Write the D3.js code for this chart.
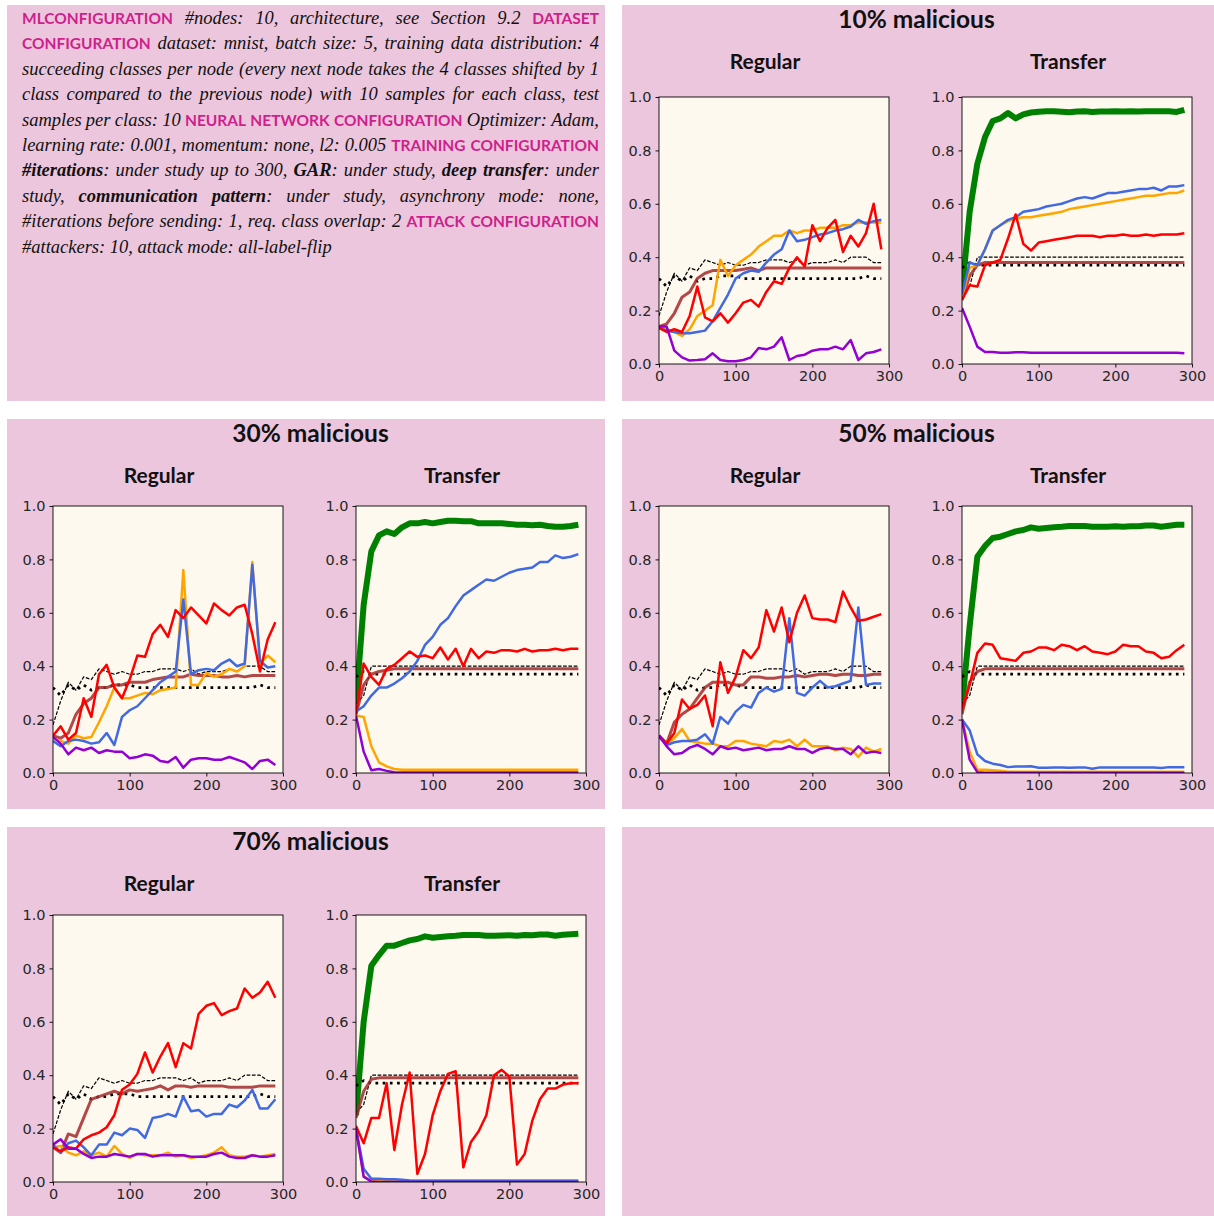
<!DOCTYPE html>
<html>
<head>
<meta charset="utf-8">
<script src="https://cdn.jsdelivr.net/npm/d3@7"></script>
<style>
  body { margin: 0; background: #fff; }
  svg { display: block; }
</style>
</head>
<body>
<script>
// iterations on the x axis
const iterations = [0,10,20,30,40,50,60,70,80,90,100,110,120,130,140,150,160,170,180,190,200,210,220,230,240,250,260,270,280,290];
const yTicks = [0, 0.2, 0.4, 0.6, 0.8, 1.0];
const xTicks = [0, 100, 200, 300];
const maliciousTitles = ['10% malicious', '30% malicious', '50% malicious', '70% malicious'];
const subTitles = ['Regular', 'Transfer'];

// reference curves (black dashed / dotted)
const regDashed = [0.18,0.27,0.34,0.31,0.36,0.35,0.39,0.38,0.37,0.38,0.37,0.37,0.38,0.38,0.39,0.39,0.39,0.38,0.39,0.37,0.38,0.38,0.38,0.39,0.38,0.40,0.40,0.40,0.38,0.38];
const regDotted = [0.32,0.29,0.33,0.31,0.33,0.31,0.32,0.32,0.33,0.33,0.33,0.32,0.32,0.32,0.32,0.32,0.32,0.32,0.32,0.32,0.32,0.32,0.32,0.32,0.32,0.32,0.32,0.33,0.32,0.32];
const trDashed = [0.26,0.29,0.40,0.40,0.40,0.40,0.40,0.40,0.40,0.40,0.40,0.40,0.40,0.40,0.40,0.40,0.40,0.40,0.40,0.40,0.40,0.40,0.40,0.40,0.40,0.40,0.40,0.40,0.40,0.40];
const trDotted = [0.36,0.38,0.37,0.37,0.37,0.37,0.37,0.37,0.37,0.37,0.37,0.37,0.37,0.37,0.37,0.37,0.37,0.37,0.37,0.37,0.37,0.37,0.37,0.37,0.37,0.37,0.37,0.37,0.37,0.37];

// 10% malicious
const reg10Orange = [0.14,0.13,0.12,0.105,0.13,0.18,0.20,0.22,0.39,0.33,0.37,0.39,0.41,0.44,0.46,0.48,0.48,0.50,0.49,0.50,0.50,0.51,0.51,0.51,0.52,0.52,0.53,0.53,0.53,0.53];
const reg10Blue = [0.135,0.125,0.12,0.115,0.115,0.12,0.125,0.16,0.21,0.26,0.32,0.34,0.35,0.345,0.38,0.41,0.43,0.50,0.46,0.465,0.475,0.485,0.49,0.50,0.505,0.515,0.54,0.525,0.535,0.54];
const reg10Red = [0.135,0.12,0.13,0.12,0.18,0.29,0.175,0.16,0.19,0.155,0.19,0.23,0.24,0.215,0.27,0.31,0.30,0.36,0.40,0.365,0.52,0.46,0.51,0.54,0.42,0.48,0.44,0.49,0.60,0.43];
const reg10Purple = [0.14,0.14,0.05,0.025,0.013,0.015,0.018,0.04,0.015,0.01,0.01,0.015,0.025,0.06,0.055,0.065,0.10,0.015,0.03,0.035,0.05,0.055,0.055,0.065,0.055,0.09,0.015,0.04,0.045,0.055];
const reg10Brown = [0.14,0.15,0.19,0.25,0.27,0.32,0.34,0.35,0.35,0.35,0.35,0.355,0.36,0.35,0.36,0.36,0.36,0.36,0.36,0.36,0.36,0.36,0.36,0.36,0.36,0.36,0.36,0.36,0.36,0.36];
const tr10Green = [0.27,0.57,0.75,0.85,0.91,0.92,0.94,0.92,0.935,0.942,0.945,0.947,0.947,0.945,0.943,0.946,0.947,0.944,0.946,0.946,0.947,0.946,0.947,0.946,0.947,0.947,0.947,0.947,0.944,0.952];
const tr10Blue = [0.26,0.38,0.37,0.43,0.50,0.52,0.54,0.55,0.57,0.575,0.58,0.59,0.595,0.60,0.61,0.62,0.625,0.62,0.63,0.64,0.64,0.645,0.65,0.655,0.655,0.66,0.65,0.665,0.665,0.67];
const tr10Orange = [0.25,0.36,0.37,0.43,0.50,0.52,0.535,0.545,0.55,0.55,0.555,0.56,0.565,0.57,0.58,0.585,0.59,0.595,0.60,0.605,0.61,0.615,0.62,0.625,0.63,0.63,0.635,0.64,0.64,0.65];
const tr10Red = [0.24,0.295,0.29,0.37,0.38,0.39,0.47,0.56,0.45,0.425,0.455,0.46,0.465,0.47,0.475,0.48,0.48,0.48,0.475,0.48,0.48,0.485,0.48,0.48,0.485,0.48,0.485,0.485,0.485,0.49];
const tr10Purple = [0.21,0.14,0.065,0.045,0.045,0.042,0.042,0.044,0.044,0.042,0.042,0.042,0.042,0.042,0.042,0.042,0.042,0.042,0.042,0.042,0.042,0.042,0.042,0.042,0.042,0.042,0.042,0.042,0.042,0.04];
const tr10Brown = [0.24,0.33,0.37,0.38,0.38,0.38,0.38,0.38,0.38,0.38,0.38,0.38,0.38,0.38,0.38,0.38,0.38,0.38,0.38,0.38,0.38,0.38,0.38,0.38,0.38,0.38,0.38,0.38,0.38,0.38];

// 30% malicious
const reg30Orange = [0.13,0.12,0.11,0.14,0.13,0.135,0.19,0.25,0.32,0.28,0.28,0.29,0.30,0.295,0.31,0.315,0.32,0.76,0.33,0.33,0.375,0.36,0.37,0.39,0.38,0.40,0.79,0.41,0.44,0.415];
const reg30Blue = [0.12,0.10,0.12,0.125,0.12,0.11,0.115,0.15,0.105,0.21,0.235,0.25,0.28,0.31,0.34,0.36,0.38,0.65,0.37,0.385,0.39,0.385,0.41,0.425,0.40,0.41,0.78,0.42,0.395,0.40];
const reg30Red = [0.14,0.175,0.125,0.15,0.28,0.21,0.37,0.405,0.32,0.28,0.35,0.44,0.435,0.52,0.555,0.51,0.61,0.58,0.62,0.59,0.56,0.635,0.61,0.59,0.62,0.63,0.52,0.38,0.50,0.565];
const reg30Purple = [0.135,0.11,0.07,0.095,0.085,0.095,0.075,0.085,0.08,0.08,0.055,0.06,0.07,0.065,0.045,0.04,0.06,0.02,0.05,0.055,0.055,0.05,0.05,0.06,0.05,0.04,0.015,0.045,0.05,0.03];
const reg30Brown = [0.14,0.13,0.15,0.22,0.26,0.28,0.32,0.32,0.33,0.33,0.34,0.34,0.34,0.35,0.355,0.36,0.36,0.36,0.37,0.365,0.365,0.365,0.36,0.36,0.365,0.36,0.365,0.365,0.365,0.365];
const tr30Green = [0.26,0.63,0.83,0.89,0.905,0.895,0.92,0.935,0.935,0.94,0.935,0.94,0.945,0.945,0.943,0.943,0.935,0.935,0.935,0.935,0.933,0.93,0.93,0.928,0.93,0.925,0.922,0.922,0.925,0.93];
const tr30Blue = [0.23,0.25,0.29,0.32,0.32,0.335,0.355,0.38,0.42,0.48,0.51,0.555,0.58,0.625,0.665,0.685,0.705,0.725,0.72,0.735,0.75,0.76,0.765,0.77,0.79,0.79,0.815,0.805,0.81,0.82];
const tr30Orange = [0.215,0.21,0.10,0.04,0.025,0.015,0.012,0.012,0.012,0.012,0.012,0.012,0.012,0.012,0.012,0.012,0.012,0.012,0.012,0.012,0.012,0.012,0.012,0.012,0.012,0.012,0.012,0.012,0.012,0.012];
const tr30Red = [0.22,0.41,0.36,0.33,0.39,0.405,0.43,0.455,0.435,0.44,0.43,0.47,0.425,0.465,0.40,0.465,0.43,0.455,0.45,0.46,0.46,0.455,0.465,0.455,0.46,0.46,0.465,0.46,0.465,0.465];
const tr30Purple = [0.215,0.08,0.01,0.015,0.008,0.003,0.002,0.002,0.002,0.002,0.002,0.002,0.002,0.002,0.002,0.002,0.002,0.002,0.002,0.002,0.002,0.002,0.002,0.002,0.002,0.002,0.002,0.002,0.002,0.002];
const tr30Brown = [0.22,0.33,0.37,0.38,0.385,0.39,0.39,0.39,0.39,0.39,0.39,0.39,0.39,0.39,0.39,0.39,0.39,0.39,0.39,0.39,0.39,0.39,0.39,0.39,0.39,0.39,0.39,0.39,0.39,0.39];

// 50% malicious
const reg50Orange = [0.135,0.11,0.13,0.165,0.12,0.115,0.11,0.11,0.10,0.10,0.12,0.12,0.11,0.105,0.10,0.12,0.115,0.125,0.10,0.125,0.10,0.10,0.10,0.085,0.095,0.09,0.06,0.095,0.08,0.09];
const reg50Blue = [0.135,0.105,0.115,0.12,0.12,0.125,0.145,0.11,0.21,0.185,0.23,0.255,0.245,0.30,0.32,0.305,0.315,0.58,0.30,0.29,0.32,0.345,0.32,0.325,0.335,0.345,0.62,0.33,0.335,0.335];
const reg50Red = [0.14,0.11,0.15,0.275,0.24,0.255,0.29,0.175,0.415,0.30,0.36,0.46,0.43,0.47,0.61,0.53,0.62,0.49,0.60,0.665,0.58,0.575,0.575,0.565,0.68,0.62,0.57,0.575,0.585,0.595];
const reg50Purple = [0.14,0.10,0.07,0.075,0.095,0.105,0.09,0.07,0.10,0.09,0.095,0.085,0.09,0.095,0.085,0.09,0.09,0.10,0.09,0.09,0.075,0.09,0.095,0.09,0.09,0.07,0.10,0.075,0.08,0.075];
const reg50Brown = [0.14,0.11,0.19,0.22,0.24,0.28,0.32,0.34,0.34,0.34,0.33,0.33,0.36,0.36,0.355,0.355,0.36,0.36,0.365,0.36,0.365,0.37,0.37,0.365,0.37,0.37,0.365,0.365,0.37,0.37];
const tr50Green = [0.25,0.55,0.81,0.85,0.88,0.885,0.895,0.905,0.91,0.92,0.915,0.918,0.92,0.922,0.925,0.925,0.925,0.922,0.922,0.922,0.924,0.922,0.924,0.924,0.927,0.927,0.922,0.926,0.93,0.93];
const tr50Blue = [0.20,0.16,0.07,0.045,0.035,0.03,0.022,0.024,0.024,0.025,0.02,0.02,0.021,0.021,0.02,0.021,0.021,0.016,0.021,0.021,0.021,0.021,0.021,0.021,0.021,0.021,0.019,0.022,0.022,0.022];
const tr50Orange = [0.20,0.08,0.012,0.012,0.01,0.008,0.005,0.005,0.005,0.005,0.005,0.005,0.005,0.005,0.005,0.005,0.005,0.005,0.005,0.005,0.005,0.005,0.005,0.005,0.005,0.005,0.005,0.005,0.005,0.005];
const tr50Red = [0.24,0.33,0.45,0.485,0.48,0.43,0.425,0.42,0.45,0.455,0.47,0.47,0.46,0.48,0.475,0.46,0.475,0.455,0.45,0.445,0.455,0.48,0.475,0.475,0.455,0.45,0.43,0.435,0.46,0.48];
const tr50Purple = [0.20,0.05,0.003,0.001,0.001,0.001,0.001,0.001,0.001,0.001,0.001,0.001,0.001,0.001,0.001,0.001,0.001,0.001,0.001,0.001,0.001,0.001,0.001,0.001,0.001,0.001,0.001,0.001,0.001,0.001];
const tr50Brown = [0.22,0.34,0.38,0.39,0.39,0.39,0.39,0.39,0.39,0.39,0.39,0.39,0.39,0.39,0.39,0.39,0.39,0.39,0.39,0.39,0.39,0.39,0.39,0.39,0.39,0.39,0.39,0.39,0.39,0.39];

// 70% malicious
const reg70Orange = [0.13,0.135,0.11,0.10,0.115,0.10,0.11,0.095,0.135,0.105,0.09,0.105,0.10,0.10,0.10,0.11,0.095,0.10,0.09,0.095,0.10,0.11,0.13,0.10,0.095,0.095,0.10,0.095,0.10,0.105];
const reg70Blue = [0.14,0.11,0.145,0.155,0.13,0.10,0.14,0.14,0.185,0.175,0.20,0.195,0.165,0.24,0.245,0.255,0.245,0.32,0.265,0.27,0.245,0.255,0.255,0.29,0.28,0.305,0.345,0.275,0.275,0.31];
const reg70Red = [0.13,0.115,0.13,0.125,0.16,0.175,0.185,0.205,0.25,0.345,0.365,0.405,0.485,0.41,0.47,0.52,0.43,0.52,0.50,0.63,0.66,0.67,0.625,0.64,0.65,0.725,0.69,0.71,0.75,0.69];
const reg70Purple = [0.14,0.16,0.125,0.125,0.105,0.09,0.095,0.095,0.105,0.10,0.095,0.105,0.105,0.095,0.10,0.10,0.10,0.10,0.095,0.095,0.095,0.105,0.11,0.095,0.09,0.09,0.10,0.095,0.095,0.10];
const reg70Brown = [0.13,0.11,0.18,0.17,0.24,0.31,0.32,0.33,0.34,0.33,0.345,0.34,0.345,0.35,0.36,0.345,0.36,0.36,0.355,0.36,0.36,0.36,0.36,0.355,0.355,0.355,0.355,0.36,0.36,0.36];
const tr70Green = [0.25,0.60,0.81,0.85,0.885,0.885,0.895,0.905,0.91,0.92,0.915,0.918,0.92,0.922,0.925,0.925,0.925,0.922,0.922,0.923,0.924,0.922,0.925,0.924,0.927,0.927,0.922,0.926,0.928,0.93];
const tr70Blue = [0.20,0.05,0.012,0.012,0.01,0.01,0.008,0.006,0.005,0.005,0.005,0.005,0.005,0.005,0.005,0.005,0.005,0.005,0.005,0.005,0.005,0.005,0.005,0.005,0.005,0.005,0.005,0.005,0.005,0.005];
const tr70Orange = [0.20,0.02,0.005,0.005,0.005,0.005,0.005,0.005,0.005,0.005,0.005,0.005,0.005,0.005,0.005,0.005,0.005,0.005,0.005,0.005,0.005,0.005,0.005,0.005,0.005,0.005,0.005,0.005,0.005,0.005];
const tr70Red = [0.21,0.145,0.24,0.24,0.37,0.12,0.29,0.41,0.03,0.105,0.25,0.34,0.405,0.415,0.055,0.15,0.19,0.25,0.40,0.42,0.395,0.065,0.105,0.23,0.31,0.35,0.35,0.365,0.37,0.37];
const tr70Purple = [0.20,0.02,0.002,0,0,0,0,0,0,0,0,0,0,0,0,0,0,0,0,0,0,0,0,0,0,0,0,0,0,0];
const tr70Brown = [0.24,0.34,0.385,0.39,0.39,0.39,0.39,0.39,0.39,0.39,0.39,0.39,0.39,0.39,0.39,0.39,0.39,0.39,0.39,0.39,0.39,0.39,0.39,0.39,0.39,0.39,0.39,0.39,0.39,0.39];

// configuration text, one entry per printed line: h = heading, i = italic, b = bold italic
const configLines = [
  [['h', 'MLCONFIGURATION'], ['i', '#nodes: 10, architecture, see Section 9.2'], ['h', 'DATASET']],
  [['h', 'CONFIGURATION'], ['i', 'dataset: mnist, batch size: 5, training data distribution: 4']],
  [['i', 'succeeding classes per node (every next node takes the 4 classes shifted by 1']],
  [['i', 'class compared to the previous node) with 10 samples for each class, test']],
  [['i', 'samples per class: 10'], ['h', 'NEURAL NETWORK CONFIGURATION'], ['i', 'Optimizer: Adam,']],
  [['i', 'learning rate: 0.001, momentum: none, l2: 0.005'], ['h', 'TRAINING CONFIGURATION']],
  [['b', '#iterations'], ['i', ': under study up to 300, ', true], ['b', 'GAR'], ['i', ': under study, ', true], ['b', 'deep transfer'], ['i', ': under', true]],
  [['i', 'study, '], ['b', 'communication pattern'], ['i', ': under study, asynchrony mode: none,', true]],
  [['i', '#iterations before sending: 1, req. class overlap: 2'], ['h', 'ATTACK CONFIGURATION']],
  [['i', '#attackers: 10, attack mode: all-label-flip']]
];

const W = 1214, H = 1216;
const pink = '#ecc6dc';
const plotBg = '#fdf9ef';
const magenta = '#cf1f8d';
const sansTitle = 'Lato, "Open Sans", sans-serif';

const svg = d3.select('body').append('svg')
  .attr('width', W)
  .attr('height', H);

const boxes = [
  {x: 7, y: 5, w: 598, h: 396},
  {x: 622, y: 5, w: 592, h: 396},
  {x: 7, y: 419, w: 598, h: 390},
  {x: 622, y: 419, w: 592, h: 390},
  {x: 7, y: 827, w: 598, h: 389},
  {x: 622, y: 827, w: 592, h: 389}
];
svg.selectAll('rect.panel')
  .data(boxes)
  .enter().append('rect')
  .attr('class', 'panel')
  .attr('x', d => d.x).attr('y', d => d.y)
  .attr('width', d => d.w).attr('height', d => d.h)
  .attr('fill', pink);

// ---- text panel ----
function drawConfigText() {
  const left = 22, right = 599, top = 24, lineH = 25.4;
  const styleOf = {
    h: {family: sansTitle, size: '15.5px', weight: 700, style: 'normal', fill: magenta},
    i: {family: '"Liberation Serif", "Times New Roman", serif', size: '18.5px', weight: 400, style: 'italic', fill: '#111'},
    b: {family: '"Liberation Serif", "Times New Roman", serif', size: '18.5px', weight: 700, style: 'italic', fill: '#111'}
  };
  const g = svg.append('g').attr('class', 'config');

  configLines.forEach((segs, li) => {
    const y = top + li * lineH;
    // split into words; glued segments attach to the previous word
    const words = [];
    segs.forEach(([kind, txt, glued]) => {
      const parts = txt.trim().split(/\s+/);
      const lead = glued && !/^\s/.test(txt);
      parts.forEach((p, pi) => {
        const node = g.append('text')
          .attr('y', y)
          .attr('font-family', styleOf[kind].family)
          .attr('font-size', styleOf[kind].size)
          .attr('font-weight', styleOf[kind].weight)
          .attr('font-style', styleOf[kind].style)
          .attr('fill', styleOf[kind].fill)
          .text(p);
        const w = node.node().getComputedTextLength();
        if (pi === 0 && lead && words.length) {
          words[words.length - 1].push({node, w});
        } else {
          words.push([{node, w}]);
        }
      });
    });
    const widths = words.map(grp => d3.sum(grp, d => d.w));
    const total = d3.sum(widths);
    const last = li === configLines.length - 1;
    const gap = last ? 4.6 : (right - left - total) / (words.length - 1);
    let x = left;
    words.forEach((grp, wi) => {
      let gx = x;
      grp.forEach(d => { d.node.attr('x', gx); gx += d.w; });
      x += widths[wi] + gap;
    });
  });
}
drawConfigText();

// ---- chart panels ----
const charts = [
  {px: 622, py: 5, left: 659, top: 97, reg: [reg10Orange, reg10Blue, reg10Red, reg10Purple, reg10Brown],
    tr: [tr10Green, tr10Orange, tr10Blue, tr10Red, tr10Purple, tr10Brown]},
  {px: 7, py: 419, left: 53, top: 506, reg: [reg30Orange, reg30Blue, reg30Red, reg30Purple, reg30Brown],
    tr: [tr30Green, tr30Orange, tr30Blue, tr30Red, tr30Purple, tr30Brown]},
  {px: 622, py: 419, left: 659, top: 506, reg: [reg50Orange, reg50Blue, reg50Red, reg50Purple, reg50Brown],
    tr: [tr50Green, tr50Orange, tr50Blue, tr50Red, tr50Purple, tr50Brown]},
  {px: 7, py: 827, left: 53, top: 915, reg: [reg70Orange, reg70Blue, reg70Red, reg70Purple, reg70Brown],
    tr: [tr70Green, tr70Orange, tr70Blue, tr70Red, tr70Purple, tr70Brown]}
];

const plotW = 230, plotH = 267, transferShift = 303;

const lineStyles = {
  orange: {stroke: '#ffa500', width: 2.5},
  blue: {stroke: '#4169e1', width: 2.5},
  red: {stroke: '#ff0000', width: 2.5},
  purple: {stroke: '#9400d3', width: 2.5},
  brown: {stroke: '#a52a2a', width: 3, opacity: 0.85},
  green: {stroke: '#008000', width: 6},
  dashed: {stroke: '#000', width: 1.2, dash: '3.7,1.6'},
  dotted: {stroke: '#000', width: 2.7, dash: '2.7,4.5'}
};

let clipId = 0;
function drawPlot(left, top, series) {
  const x = d3.scaleLinear().domain([0, 300]).range([left, left + plotW]);
  const y = d3.scaleLinear().domain([0, 1]).range([top + plotH, top]);
  const g = svg.append('g');

  g.append('rect')
    .attr('x', left).attr('y', top)
    .attr('width', plotW).attr('height', plotH)
    .attr('fill', plotBg);

  const id = 'clip' + (clipId++);
  g.append('clipPath').attr('id', id)
    .append('rect')
    .attr('x', left).attr('y', top)
    .attr('width', plotW).attr('height', plotH);

  const line = d3.line()
    .x((d, i) => x(iterations[i]))
    .y(d => y(d));

  const lines = g.append('g').attr('clip-path', `url(#${id})`);
  series.forEach(([kind, values]) => {
    const st = lineStyles[kind];
    lines.append('path')
      .datum(values)
      .attr('d', line)
      .attr('fill', 'none')
      .attr('stroke', st.stroke)
      .attr('stroke-width', st.width)
      .attr('stroke-opacity', st.opacity || 1)
      .attr('stroke-dasharray', st.dash || null)
      .attr('stroke-linejoin', 'round');
  });

  const yAxis = g.append('g')
    .attr('transform', `translate(${left},0)`)
    .call(d3.axisLeft(y).tickValues(yTicks).tickFormat(d3.format('.1f')).tickSize(3.5).tickPadding(4));
  const xAxis = g.append('g')
    .attr('transform', `translate(0,${top + plotH})`)
    .call(d3.axisBottom(x).tickValues(xTicks).tickSize(3.5).tickPadding(3.5));
  [yAxis, xAxis].forEach(a => {
    a.select('.domain').remove();
    a.attr('font-family', '"DejaVu Sans", sans-serif').attr('font-size', 14.5);
    a.selectAll('text').attr('fill', '#262626');
    a.selectAll('line').attr('stroke', '#000').attr('stroke-width', 0.9);
  });

  g.append('rect')
    .attr('x', left).attr('y', top)
    .attr('width', plotW).attr('height', plotH)
    .attr('fill', 'none')
    .attr('stroke', '#000')
    .attr('stroke-width', 0.9);
}

charts.forEach((c, ci) => {
  const regCenter = c.left + plotW / 2 - 9;
  const trCenter = regCenter + transferShift;

  svg.append('text')
    .attr('x', (regCenter + trCenter) / 2)
    .attr('y', c.py + 23)
    .attr('text-anchor', 'middle')
    .attr('font-family', sansTitle)
    .attr('font-weight', 700)
    .attr('font-size', 24.5)
    .attr('fill', '#111')
    .text(maliciousTitles[ci]);

  [regCenter, trCenter].forEach((cx, si) => {
    svg.append('text')
      .attr('x', cx)
      .attr('y', c.py + 64)
      .attr('text-anchor', 'middle')
      .attr('font-family', sansTitle)
      .attr('font-weight', 700)
      .attr('font-size', 21)
      .attr('fill', '#111')
      .text(subTitles[si]);
  });

  const [ro, rb, rr, rp, rbr] = c.reg;
  drawPlot(c.left, c.top, [
    ['dashed', regDashed], ['dotted', regDotted], ['brown', rbr],
    ['orange', ro], ['blue', rb], ['red', rr], ['purple', rp]
  ]);

  const [tg, to, tb, tre, tp, tbr] = c.tr;
  drawPlot(c.left + transferShift, c.top, [
    ['green', tg], ['dashed', trDashed], ['dotted', trDotted], ['brown', tbr],
    ['orange', to], ['blue', tb], ['red', tre], ['purple', tp]
  ]);
});
</script>
</body>
</html>
